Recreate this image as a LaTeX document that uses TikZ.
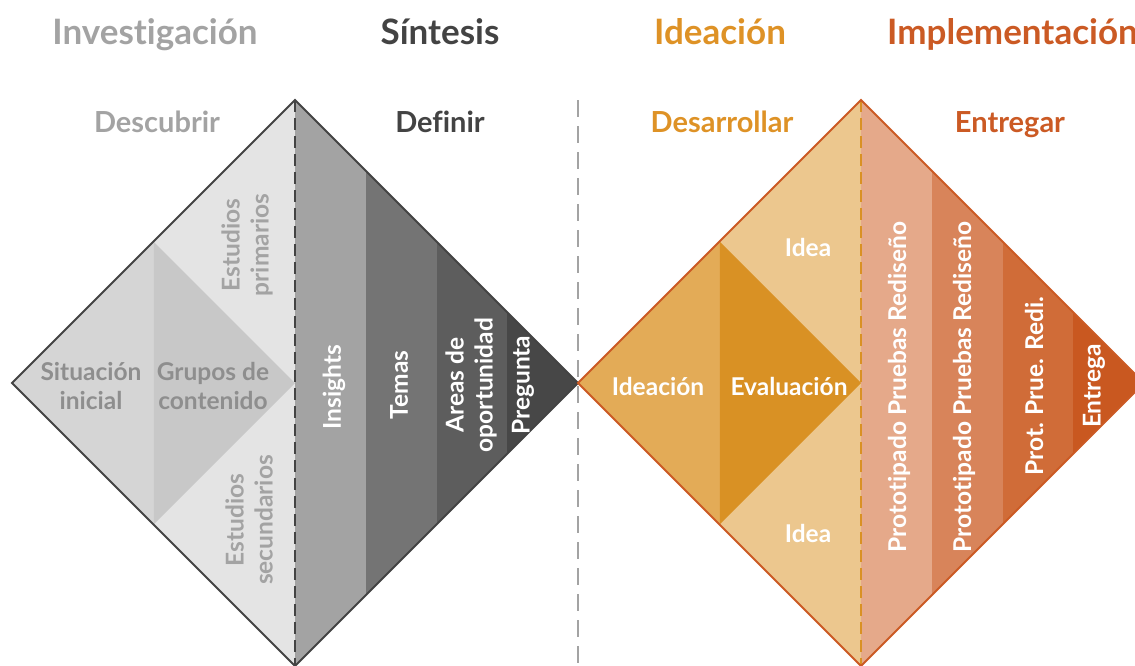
\documentclass[tikz,border=0pt]{standalone}
\usepackage{fontspec}
\setmainfont[Ligatures={NoCommon}]{Lato}
\definecolor{invGray}{HTML}{A3A3A3}
\definecolor{sinDark}{HTML}{434343}
\definecolor{ideOrange}{HTML}{DE9226}
\definecolor{impRed}{HTML}{CB5A24}
\definecolor{estFill}{HTML}{E4E4E4}
\definecolor{sitFill}{HTML}{D5D5D5}
\definecolor{gruFill}{HTML}{C8C8C8}
\definecolor{ideaFill}{HTML}{ECC78E}
\definecolor{ideFill}{HTML}{E3AB57}
\definecolor{evaFill}{HTML}{D99124}
\definecolor{txtGray}{HTML}{8E8E8E}
\tikzset{
  head/.style={font=\bfseries\fontsize{35}{40}\selectfont, inner sep=0pt, anchor=base},
  subhead/.style={font=\bfseries\fontsize{29}{34}\selectfont, inner sep=0pt, anchor=base},
  lbl/.style={font=\bfseries\fontsize{24.5}{29}\selectfont, align=center, inner sep=0pt},
  vlbl/.style={lbl, rotate=90},
}
\begin{document}
\begin{tikzpicture}[x=1pt,y=-1pt]
\useasboundingbox (0,0) rectangle (1135,665);
\clip (0,0) rectangle (1135,665);
% left diamond
\begin{scope}
\clip (12,383) -- (295,100) -- (578,383) -- (295,666) -- cycle;
\fill[estFill] (12,100) rectangle (295,666);
\fill[sitFill] (12,383) -- (153.5,241.5) -- (153.5,524.5) -- cycle;
\fill[gruFill] (153.5,241.5) -- (295,383) -- (153.5,524.5) -- cycle;
\foreach \c [count=\i from 0] in {A3A3A3,747474,5D5D5D,474747}{
  \definecolor{stripFill}{HTML}{\c}
  \fill[stripFill] (295+70.75*\i,100) rectangle (295+70.75*\i+70.75,666);
}
\end{scope}
% right diamond
\begin{scope}
\clip (578,383) -- (861,100) -- (1144,383) -- (861,666) -- cycle;
\fill[ideaFill] (578,100) rectangle (861,666);
\fill[ideFill] (578,383) -- (719.5,241.5) -- (719.5,524.5) -- cycle;
\fill[evaFill] (719.5,241.5) -- (861,383) -- (719.5,524.5) -- cycle;
\foreach \c [count=\i from 0] in {E5A98A,D8845A,D06C38,C95820}{
  \definecolor{stripFill}{HTML}{\c}
  \fill[stripFill] (861+70.75*\i,100) rectangle (861+70.75*\i+70.75,666);
}
\end{scope}
% dashed dividers
\draw[sinDark, line width=2pt, dash pattern=on 12pt off 6pt] (295,100) -- (295,666);
\draw[invGray, line width=2pt, dash pattern=on 17pt off 9pt] (578,100) -- (578,666);
\draw[evaFill, line width=2pt, dash pattern=on 12pt off 6pt] (861,100) -- (861,666);
% outlines
\draw[sinDark, line width=2pt, line join=miter] (12,383) -- (295,100) -- (578,383) -- (295,666) -- cycle;
\draw[impRed, line width=2pt, line join=miter] (578,383) -- (861,100) -- (1144,383) -- (861,666) -- cycle;
% headings
\node[head, text=invGray] (investigacion) at (155,44) {Investigación};
\node[head, text=sinDark] (sintesis) at (440,44) {Síntesis};
\node[head, text=ideOrange] (ideacionHead) at (720,44) {Ideación};
\node[head, text=impRed, anchor=base west] (implementacion) at (887,44) {Implementación};
\node[subhead, text=invGray] (descubrir) at (157,132) {Descubrir};
\node[subhead, text=sinDark] (definir) at (440,132) {Definir};
\node[subhead, text=ideOrange] (desarrollar) at (722,132) {Desarrollar};
\node[subhead, text=impRed] (entregar) at (1010,132) {Entregar};
% descubrir labels
\node[lbl, text=txtGray] (situacion) at (91,386) {Situación\\inicial};
\node[lbl, text=txtGray] (grupos) at (213,386) {Grupos de\\contenido};
\node[vlbl, text=invGray] (primarios) at (247,245) {Estudios\\primarios};
\node[vlbl, text=invGray] (secundarios) at (249,520) {Estudios\\secundarios};
% definir labels
\node[vlbl, text=white] (insights) at (334,387) {Insights};
\node[vlbl, text=white] (temas) at (399,385) {Temas};
\node[vlbl, text=white] (areas) at (471,385) {Areas de\\oportunidad};
\node[vlbl, text=white] (pregunta) at (523,385) {Pregunta};
% desarrollar labels
\node[lbl, text=white] (ideacion) at (658,386) {Ideación};
\node[lbl, text=white] (evaluacion) at (789,386) {Evaluación};
\node[lbl, text=white] (ideaTop) at (808,247) {Idea};
\node[lbl, text=white] (ideaBot) at (808,533) {Idea};
% entregar labels
\node[vlbl, text=white] (protoA) at (899,387) {Prototipado Pruebas Rediseño};
\node[vlbl, text=white] (protoB) at (964,387) {Prototipado Pruebas Rediseño};
\node[vlbl, text=white] (protoC) at (1034,386) {Prot. Prue. Redi.};
\node[vlbl, text=white] (entrega) at (1094,386) {Entrega};
\end{tikzpicture}
\end{document}
